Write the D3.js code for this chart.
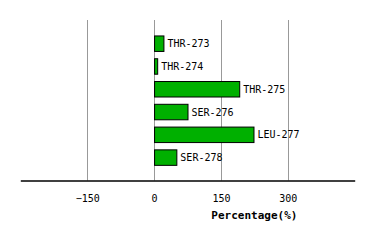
<!DOCTYPE html>
<html>
<head>
<meta charset="utf-8">
<script src="https://cdn.jsdelivr.net/npm/d3@7"></script>
<style>
body { margin: 0; background: #fff; }
</style>
</head>
<body>
<div id="chart"></div>
<script>
const residues = ['THR-273', 'THR-274', 'THR-275', 'SER-276', 'LEU-277', 'SER-278'];
const percentages = [21, 7, 191, 75, 223, 50];
const tickValues = [-150, 0, 150, 300];

const width = 374, height = 240;
const svg = d3.select('#chart').append('svg').attr('width', width).attr('height', height);

const x = d3.scaleLinear().domain([-300, 450]).range([20.3, 354.7]);
const y = d3.scaleBand().domain(residues).range([20, 181.3]).paddingInner(0.32).paddingOuter(0.7);
const axisY = 180.5;

// gridlines
svg.append('g').selectAll('line').data(tickValues).enter().append('line')
	.attr('x1', d => Math.round(x(d)) + 0.5).attr('x2', d => Math.round(x(d)) + 0.5)
	.attr('y1', 20).attr('y2', axisY)
	.attr('stroke', '#999').attr('stroke-width', 1);

// bars
svg.append('g').selectAll('rect').data(residues).enter().append('rect')
	.attr('x', x(0) + 0.5)
	.attr('y', d => y(d))
	.attr('width', (d, i) => x(percentages[i]) - x(0))
	.attr('height', y.bandwidth())
	.attr('fill', '#00b000').attr('stroke', '#000').attr('stroke-width', 1);

// bar labels
svg.append('g').selectAll('text').data(residues).enter().append('text')
	.attr('x', (d, i) => x(percentages[i]) + 4)
	.attr('y', d => y(d) + y.bandwidth() / 2)
	.attr('dy', '0.35em')
	.style('font-family', 'DejaVu Sans Mono').style('font-size', '10px').style('fill', '#000')
	.text(d => d);

// x axis
const xAxisCall = d3.axisBottom(x).tickValues(tickValues).tickSize(0).tickPadding(14);
const xAxisGroup = svg.append('g').attr('transform', `translate(0,${axisY})`).call(xAxisCall);
xAxisGroup.select('.domain').attr('stroke', '#000').attr('stroke-width', 1.5);
xAxisGroup.selectAll('text').style('font-family', 'DejaVu Sans Mono').style('font-size', '10px').style('fill', '#000');

svg.append('text').attr('x', x(225)).attr('y', 219).attr('text-anchor', 'middle')
	.style('font-family', 'DejaVu Sans Mono').style('font-weight', 'bold').style('font-size', '11px').style('fill', '#000')
	.text('Percentage(%)');
</script>
</body>
</html>
